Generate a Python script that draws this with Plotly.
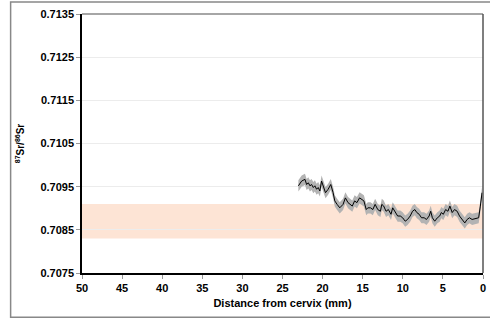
import plotly.graph_objects as go

# Distance from cervix (mm) and 87Sr/86Sr ratio
distance_mm = [23.02, 22.61, 22.20, 21.99, 21.78, 21.58, 21.37, 21.16, 20.96, 20.75,
               20.55, 20.34, 20.13, 19.93, 19.64, 19.31, 18.98, 18.69, 18.48, 18.19,
               17.86, 17.45, 17.16, 16.83, 16.54, 16.30, 16.01, 15.72, 15.39, 15.10,
               14.85, 14.56, 14.36, 14.03, 13.74, 13.45, 13.12, 12.79, 12.62, 12.38,
               12.09, 11.80, 11.47, 11.26, 10.97, 10.64, 10.31, 10.02, 9.70, 9.41,
               9.08, 8.79, 8.50, 8.25, 7.96, 7.67, 7.34, 7.05, 6.72, 6.52,
               6.31, 6.02, 5.69, 5.40, 5.20, 4.95, 4.66, 4.37, 4.13, 3.84,
               3.55, 3.22, 2.93, 2.60, 2.27, 1.98, 1.69, 1.36, 0.94, 0.54,
               0.33, 0.12]
sr_ratio = [0.70952, 0.70963, 0.70967, 0.70955, 0.70959, 0.70952, 0.70955, 0.70948, 0.70952, 0.70944,
            0.70948, 0.70940, 0.70963, 0.70952, 0.70936, 0.70944, 0.70955, 0.70936, 0.70917, 0.70909,
            0.70901, 0.70909, 0.70924, 0.70913, 0.70909, 0.70905, 0.70917, 0.70913, 0.70924, 0.70921,
            0.70917, 0.70897, 0.70901, 0.70901, 0.70897, 0.70909, 0.70897, 0.70893, 0.70909, 0.70905,
            0.70893, 0.70897, 0.70886, 0.70901, 0.70893, 0.70882, 0.70882, 0.70878, 0.70870, 0.70874,
            0.70882, 0.70893, 0.70897, 0.70890, 0.70886, 0.70878, 0.70878, 0.70874, 0.70882, 0.70893,
            0.70878, 0.70870, 0.70878, 0.70882, 0.70890, 0.70886, 0.70897, 0.70893, 0.70905, 0.70890,
            0.70897, 0.70893, 0.70882, 0.70874, 0.70866, 0.70874, 0.70878, 0.70874, 0.70876, 0.70878,
            0.70905, 0.70936]
uncertainty = 0.00013  # 2SE envelope half-width

band_low = 0.7083
band_high = 0.7091

y_ticks = [0.7075, 0.7085, 0.7095, 0.7105, 0.7115, 0.7125, 0.7135]
x_ticks = [50, 45, 40, 35, 30, 25, 20, 15, 10, 5, 0]

upper = [v + uncertainty for v in sr_ratio]
lower = [v - uncertainty for v in sr_ratio]

FAM = "Liberation Sans, Arial, sans-serif"

fig = go.Figure()
fig.add_trace(go.Scatter(x=distance_mm, y=upper, mode="lines",
                         line=dict(width=0, color="#b3b3b3"), hoverinfo="skip", showlegend=False))
fig.add_trace(go.Scatter(x=distance_mm, y=lower, mode="lines", fill="tonexty",
                         fillcolor="#b3b3b3", line=dict(width=0, color="#b3b3b3"),
                         hoverinfo="skip", showlegend=False))
fig.add_trace(go.Scatter(x=distance_mm, y=sr_ratio, mode="lines",
                         line=dict(width=1, color="#000000"), showlegend=False))

# reference band
fig.add_shape(type="rect", xref="paper", yref="y", x0=0, x1=1, y0=band_low, y1=band_high,
              fillcolor="#fde4d5", line=dict(width=0), layer="below")
# plot-area border: grey top/right
fig.add_shape(type="line", xref="paper", yref="paper", x0=0, x1=1, y0=1, y1=1,
              line=dict(color="#888888", width=1.5))
fig.add_shape(type="line", xref="paper", yref="paper", x0=1, x1=1, y0=0, y1=1,
              line=dict(color="#555555", width=1.5))
# outer chart border
fig.add_shape(type="rect", xref="paper", yref="paper", x0=-0.178, x1=1.03, y0=-0.171, y1=1.046,
              line=dict(color="#888888", width=1.5), fillcolor="rgba(0,0,0,0)")

fig.update_layout(
    width=490, height=319,
    margin=dict(l=82, r=4, t=14, b=46),
    paper_bgcolor="white", plot_bgcolor="white",
    font=dict(family=FAM, size=11, color="#000000"),
    xaxis=dict(range=[50, 0], tickvals=x_ticks, ticktext=[str(t) for t in x_ticks],
               showgrid=False, zeroline=False, showline=True, linecolor="#000000", linewidth=1.5,
               ticks="outside", ticklen=4, tickcolor="#999999",
               tickfont=dict(family=FAM, size=11, color="#000000", weight="bold"),
               title=dict(text="<b>Distance from cervix (mm)</b>", standoff=6,
                          font=dict(family=FAM, size=11))),
    yaxis=dict(range=[0.7075, 0.7135], tickvals=y_ticks, ticktext=[f"{t:.4f}" for t in y_ticks],
               showgrid=True, gridcolor="#ececec", gridwidth=1, zeroline=False,
               showline=True, linecolor="#000000", linewidth=1.5,
               ticks="outside", ticklen=4, tickcolor="#999999",
               tickfont=dict(family=FAM, size=11, color="#000000", weight="bold"),
               title=dict(text="<b><sup>87</sup>Sr/<sup>86</sup>Sr</b>", standoff=14,
                          font=dict(family=FAM, size=10))),
)

fig.write_html("out.html", config={"displayModeBar": False},
               post_script="document.body.style.margin='0';document.body.style.overflow='hidden';")
